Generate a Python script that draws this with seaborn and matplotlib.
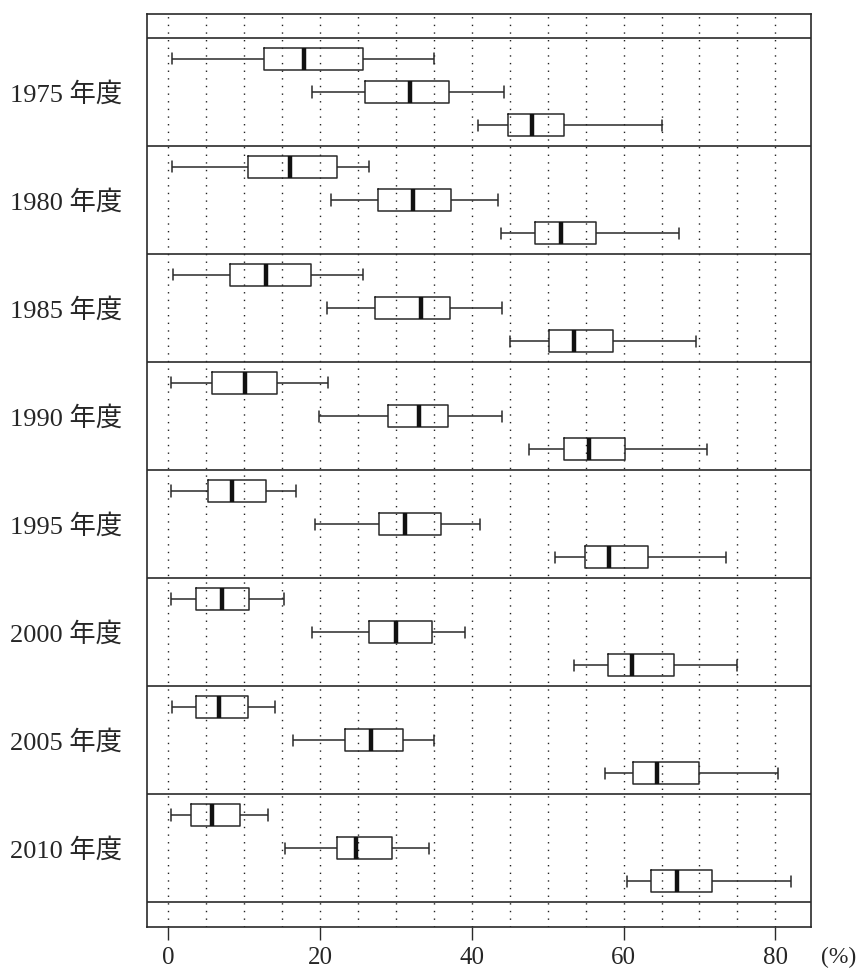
import numpy as np
import pandas as pd
import matplotlib
matplotlib.use("Agg")
import matplotlib.pyplot as plt
import seaborn as sns

# 年度
years = ["1975", "1980", "1985", "1990", "1995", "2000", "2005", "2010"]
sectors = ["第1次産業", "第2次産業", "第3次産業"]

# 各箱ひげ図: [最小, 第1四分位, 中央値, 第3四分位, 最大] (%)
primary = [
    [0.5, 12.6, 17.9, 25.7, 35.0],
    [0.5, 10.5, 16.0, 22.2, 26.5],
    [0.6, 8.1, 12.9, 18.8, 25.6],
    [0.4, 5.7, 10.1, 14.3, 21.0],
    [0.4, 5.2, 8.4, 12.9, 16.8],
    [0.4, 3.7, 7.1, 10.6, 15.3],
    [0.5, 3.7, 6.7, 10.5, 14.1],
    [0.4, 3.0, 5.7, 9.5, 13.1],
]
secondary = [
    [18.9, 25.9, 31.9, 37.0, 44.2],
    [21.5, 27.6, 32.2, 37.3, 43.5],
    [20.9, 27.2, 33.3, 37.1, 44.0],
    [19.9, 28.9, 33.0, 36.9, 44.0],
    [19.4, 27.8, 31.2, 36.0, 41.1],
    [19.0, 26.5, 30.0, 34.7, 39.1],
    [16.5, 23.3, 26.7, 31.0, 35.0],
    [15.4, 22.3, 24.7, 29.5, 34.4],
]
tertiary = [
    [40.8, 44.8, 48.0, 52.2, 65.0],
    [43.9, 48.3, 51.7, 56.4, 67.3],
    [45.1, 50.2, 53.5, 58.6, 69.6],
    [47.6, 52.1, 55.5, 60.2, 71.0],
    [51.0, 54.9, 58.1, 63.2, 73.5],
    [53.5, 57.9, 61.1, 66.6, 74.9],
    [57.6, 61.3, 64.4, 69.9, 80.3],
    [60.4, 63.6, 67.1, 71.6, 82.0],
]
xticks = [0, 20, 40, 60, 80]

rows = []
for name, series in zip(sectors, [primary, secondary, tertiary]):
    for yr, summary in zip(years, series):
        for v in summary:
            rows.append({"year": yr + " 年度", "sector": name, "value": v})
df = pd.DataFrame(rows)
order = [y + " 年度" for y in years]

sns.set_style("white")
plt.rcParams["font.family"] = ["Liberation Serif", "Noto Sans CJK JP"]

fig = plt.figure(figsize=(8.6, 9.71), dpi=100)
ax = fig.add_axes([147 / 860, 1 - 927 / 971, (811 - 147) / 860, (927 - 14) / 971])

line = "#2a2a2a"
sns.boxplot(data=df, x="value", y="year", hue="sector", order=order,
            hue_order=sectors, palette=[line] * 3, fill=False,
            whis=(0, 100), width=0.92, gap=0.33, linewidth=1.1,
            medianprops=dict(color="#111111", linewidth=3.2, solid_capstyle="butt"),
            legend=False, ax=ax)

# 点線のグリッド
for gx in np.arange(0, 81, 5):
    ax.axvline(gx, color="#222222", lw=1.0, ls=(0, (1, 4.5)), zorder=0)
# 年度の区切り線
for k in range(len(years) + 1):
    ax.axhline(k - 0.5, color=line, lw=1.2, zorder=1)

ax.set_xlim(-2.8, 84.7)
ax.set_ylim(len(years) - 0.5 + 0.23, -0.5 - 0.222)
ax.set_xticks(xticks)
ax.set_xlabel("")
ax.set_ylabel("")
ax.tick_params(axis="x", direction="out", length=9.5, width=1, color=line,
               labelsize=18, pad=5, bottom=True)
ax.tick_params(axis="y", length=0, labelsize=19, pad=18)
for s in ax.spines.values():
    s.set_color(line)
    s.set_linewidth(1.2)

ax.annotate("(%)", xy=(86.0, 0), xycoords=("data", "axes fraction"),
            xytext=(0, -14.5), textcoords="offset points",
            ha="left", va="top", fontsize=17, annotation_clip=False)

fig.savefig("out.png", dpi=100)
